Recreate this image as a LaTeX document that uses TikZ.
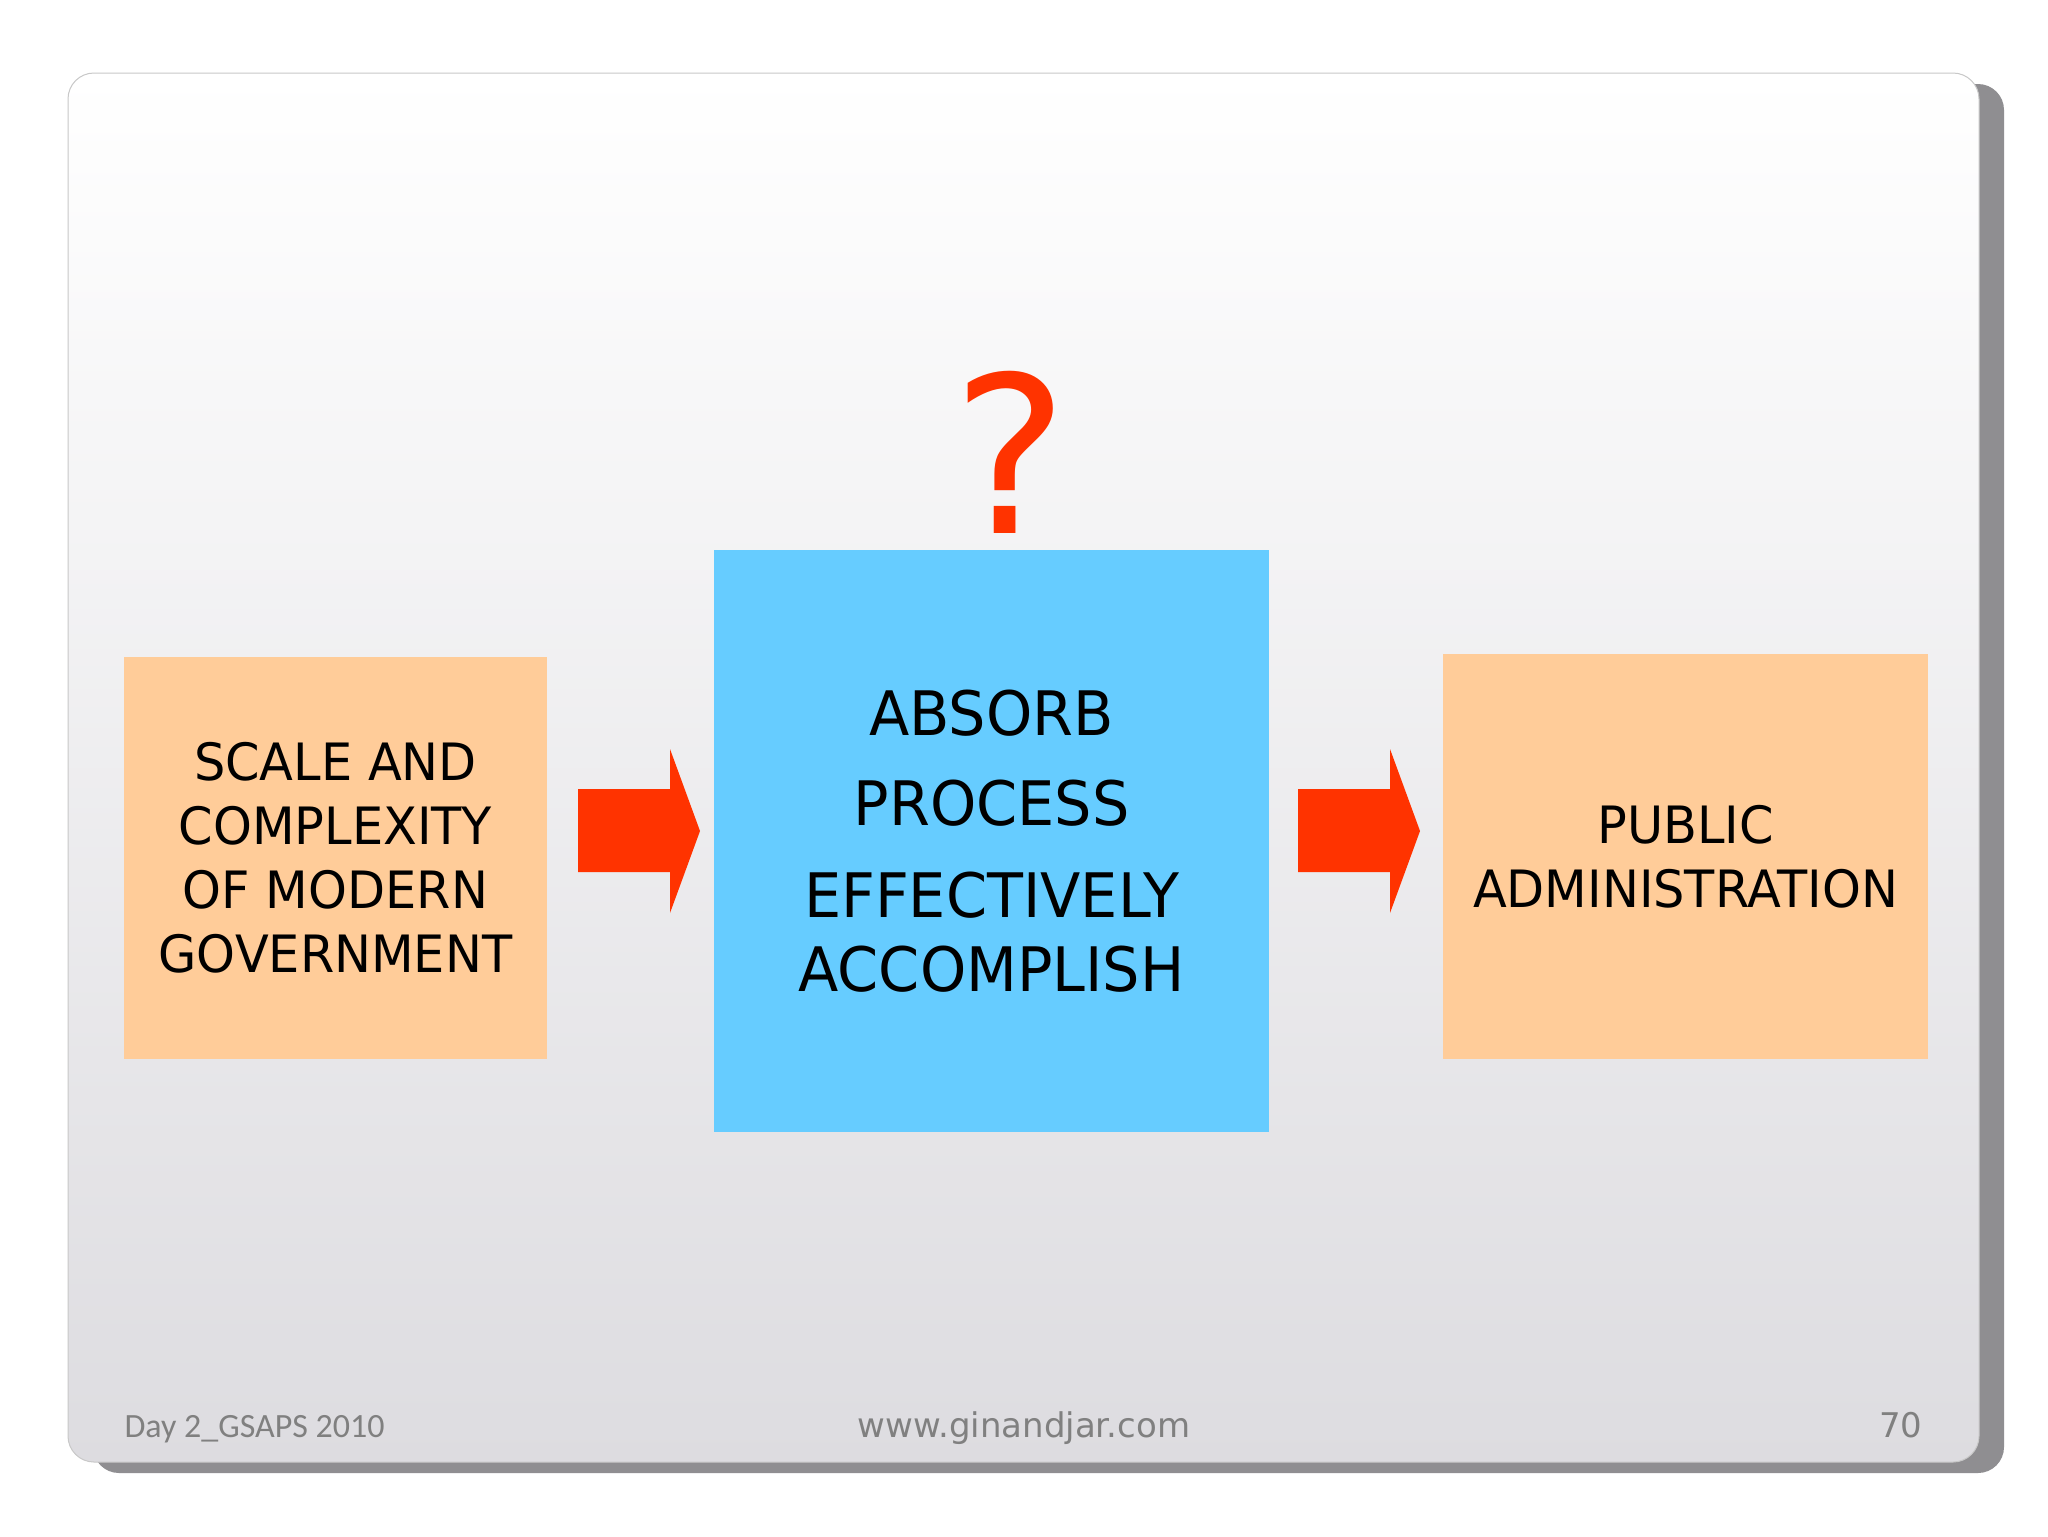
\documentclass[tikz,border=0pt]{standalone}
\usepackage{fontspec}
\newfontfamily\boxfont[FakeStretch=0.96]{DejaVu Sans}
\newfontfamily\markfont{DejaVu Sans}
\newfontfamily\footfont{Carlito}

\definecolor{slidetop}{RGB}{255,255,255}
\definecolor{slidebottom}{RGB}{221,220,224}
\definecolor{slideedge}{RGB}{200,200,200}
\definecolor{slideshadow}{RGB}{143,142,145}
\definecolor{peach}{RGB}{255,204,153}
\definecolor{skyblue}{RGB}{102,204,255}
\definecolor{flamered}{RGB}{255,51,0}
\definecolor{footgray}{RGB}{128,128,128}

\tikzset{every picture/.style={line width=0.75pt}}
\tikzset{
  slidebox/.style={inner sep=0pt, align=center, text=black},
  orangebox/.style={slidebox, fill=peach, font={\boxfont\fontsize{38.6pt}{48pt}\selectfont}},
  bluebox/.style={slidebox, fill=skyblue, font={\boxfont\fontsize{46pt}{55.5pt}\selectfont}},
  redarrow/.style={fill=flamered, draw=none},
  footer/.style={inner sep=0pt, text=footgray}
}

\begin{document}
\begin{tikzpicture}[x=0.75pt,y=0.75pt,yscale=-1,xscale=1]
\useasboundingbox (0,0) rectangle (2048,1536);
\fill[white] (0,0) rectangle (2048,1536);

%Shape: Slide shadow
\fill[slideshadow, rounded corners=19.5pt] (93,84) rectangle (2004,1473);
%Shape: Slide
\shade[top color=slidetop, bottom color=slidebottom, rounded corners=19.5pt] (68,73) rectangle (1979,1462);
\draw[slideedge, line width=0.75pt, rounded corners=19.5pt] (68,73) rectangle (1979,1462);

% Boxes
\node[orangebox, minimum width=317.25pt, minimum height=301.5pt] (scale) at (335.5,858) {SCALE AND\\COMPLEXITY\\OF MODERN\\GOVERNMENT};
\node[bluebox, minimum width=416.25pt, minimum height=436.5pt] (absorb) at (991.5,841) {ABSORB\\[12pt]PROCESS\\[13pt]EFFECTIVELY\\ACCOMPLISH};
\node[orangebox, minimum width=363.75pt, minimum height=303.75pt] (public) at (1685.5,856.5) {PUBLIC\\ADMINISTRATION};

%Shape: Right Arrow
\fill[redarrow] (578,789) -- (670,789) -- (670,749) -- (700,831) -- (670,913) -- (670,872) -- (578,872) -- cycle;
%Shape: Right Arrow
\fill[redarrow] (1298,789) -- (1390,789) -- (1390,749) -- (1420,831) -- (1390,913) -- (1390,872) -- (1298,872) -- cycle;

% Text Node
\node[anchor=base, inner sep=0pt, text=flamered, font={\markfont\fontsize{164pt}{164pt}\selectfont}] (query) at (1011,533) {?};

% Footer
\node[footer, anchor=base west, font={\footfont\fontsize{25.5pt}{30pt}\selectfont}] (day) at (124,1437) {Day 2\_GSAPS 2010};
\node[footer, anchor=base, font={\markfont\fontsize{25.5pt}{30pt}\selectfont}] (site) at (1024,1437) {www.ginandjar.com};
\node[footer, anchor=base east, font={\markfont\fontsize{25.5pt}{30pt}\selectfont}] (page) at (1923,1437) {70};

\end{tikzpicture}
\end{document}
